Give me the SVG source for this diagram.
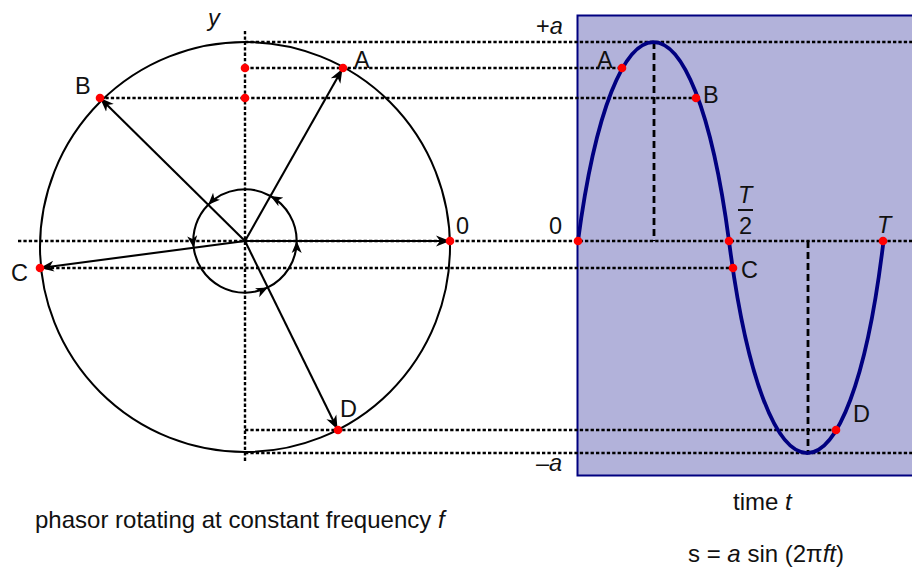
<svg xmlns="http://www.w3.org/2000/svg" width="912" height="568" viewBox="0 0 912 568">
<style>
.dot{stroke:#000;stroke-width:2.4;stroke-dasharray:3.3 2.1;fill:none}
.dash{stroke:#000;stroke-width:2.8;stroke-dasharray:7 4;fill:none}
.ph{stroke:#000;stroke-width:2.1;fill:none;marker-end:url(#ah)}
.arc{stroke:#000;stroke-width:2.1;fill:none;marker-end:url(#sah)}
.pt{fill:#ff0000}
text{font-family:"Liberation Sans",Arial,sans-serif;fill:#111}
.lb{font-size:23.5px}
.tx{font-size:24px}
.i{font-style:italic}
</style>
<defs>
<marker id="ah" markerUnits="userSpaceOnUse" markerWidth="16" markerHeight="13" viewBox="0 0 16 13" refX="8" refY="6.5" orient="auto">
<path d="M0,1 L14,6.5 L0,12 L4,6.5 Z" fill="#000"/>
</marker>
<marker id="sah" markerUnits="userSpaceOnUse" markerWidth="13" markerHeight="11" viewBox="0 0 13 11" refX="12" refY="5.5" orient="auto">
<path d="M0,0.5 L12,5.5 L0,10.5 L3.3,5.5 Z" fill="#000"/>
</marker>
</defs>

<g id="waveform-panel">
<rect x="577.5" y="15.5" width="345" height="460" fill="#b2b2da" stroke="#000080" stroke-width="2"/>
</g>

<g id="guides">
<line class="dot" x1="18" y1="241" x2="912" y2="241"/>
<line class="dot" x1="245" y1="31" x2="245" y2="463"/>
<line class="dot" x1="245" y1="42" x2="912" y2="42"/>
<line class="dot" x1="245" y1="68" x2="622" y2="68"/>
<line class="dot" x1="100" y1="98" x2="696" y2="98"/>
<line class="dot" x1="40" y1="268" x2="733" y2="268"/>
<line class="dot" x1="245" y1="430" x2="836" y2="430"/>
<line class="dot" x1="245" y1="453" x2="912" y2="453"/>
<line class="dash" x1="654" y1="42" x2="654" y2="241"/>
<line class="dash" x1="808" y1="241" x2="808" y2="453"/>
</g>

<g id="sine-curve">
<path d="M578,241 C613,-24.3 694,-24.3 729,241 C765,523.7 850,523.7 883.5,241" fill="none" stroke="#000080" stroke-width="3.8"/>
</g>

<g id="phasor-circle">
<circle cx="245" cy="247" r="205" fill="none" stroke="#000" stroke-width="2"/>
</g>

<g id="connectors">
<line class="ph" x1="245" y1="241" x2="339.5" y2="74.0"/>
<line class="ph" x1="245" y1="241" x2="104.3" y2="102.2"/>
<line class="ph" x1="245" y1="241" x2="45.9" y2="267.2"/>
<line class="ph" x1="245" y1="241" x2="334.9" y2="424.0"/>
<line class="ph" x1="245" y1="241" x2="444" y2="241" stroke-width="3.8"/>
<path class="arc" d="M296.7,241 A51.7,51.7 0 0 0 270.5,196"/>
<path class="arc" d="M270.5,196 A51.7,51.7 0 0 0 208.2,204.7"/>
<path class="arc" d="M208.2,204.7 A51.7,51.7 0 0 0 193.7,247.7"/>
<path class="arc" d="M193.7,247.7 A51.7,51.7 0 0 0 267.8,287.4"/>
<path class="arc" d="M267.8,287.4 A51.7,51.7 0 0 0 296.7,241"/>
</g>

<g id="points">
<circle class="pt" cx="343" cy="68" r="4.3"/>
<circle class="pt" cx="100" cy="98" r="4.3"/>
<circle class="pt" cx="40" cy="268" r="4.3"/>
<circle class="pt" cx="338" cy="430" r="4.3"/>
<circle class="pt" cx="450" cy="241" r="4.3"/>
<circle class="pt" cx="245" cy="68" r="4.3"/>
<circle class="pt" cx="245" cy="98" r="4.3"/>
<circle class="pt" cx="578" cy="241" r="4.3"/>
<circle class="pt" cx="622" cy="68" r="4.3"/>
<circle class="pt" cx="696" cy="98" r="4.3"/>
<circle class="pt" cx="729" cy="241" r="4.3"/>
<circle class="pt" cx="733" cy="268" r="4.3"/>
<circle class="pt" cx="883" cy="241" r="4.3"/>
<circle class="pt" cx="836" cy="430" r="4.3"/>
</g>

<g id="labels">
<text class="lb i" x="208" y="26">y</text>
<text class="lb" x="354" y="68">A</text>
<text class="lb" x="75" y="94">B</text>
<text class="lb" x="11" y="281">C</text>
<text class="lb" x="340" y="417">D</text>
<text class="lb" x="456" y="234">0</text>
<text class="lb" x="549" y="234">0</text>
<text class="lb" x="536" y="34">+<tspan class="i">a</tspan></text>
<text class="lb" x="536" y="471">–<tspan class="i">a</tspan></text>
<text class="lb" x="597" y="68">A</text>
<text class="lb" x="703" y="103">B</text>
<text class="lb" x="741" y="278">C</text>
<text class="lb" x="853" y="422">D</text>
<text class="lb i" x="738" y="203">T</text>
<line x1="738" y1="210" x2="753" y2="210" stroke="#111" stroke-width="2"/>
<text class="lb" x="739" y="234">2</text>
<text class="lb i" x="877" y="233">T</text>
<text class="tx" x="35" y="528">phasor rotating at constant frequency <tspan class="i">f</tspan></text>
<text class="tx" x="733" y="510">time <tspan class="i">t</tspan></text>
<text class="tx" x="688" y="562">s = <tspan class="i">a</tspan> sin (2π<tspan class="i">ft</tspan>)</text>
</g>
</svg>
